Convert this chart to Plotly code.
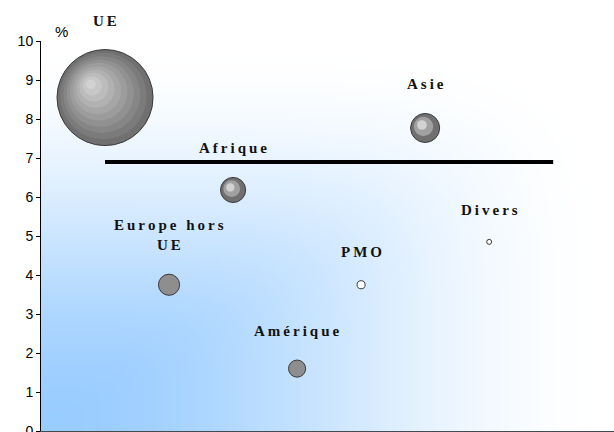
import base64
import struct
import zlib

import plotly.graph_objects as go

# ---------------- data ----------------
regions = ["UE", "Europe hors UE", "Afrique", "Amérique", "PMO", "Asie", "Divers"]
labels = ["UE", "Europe hors<br>UE", "Afrique", "Amérique", "PMO", "Asie", "Divers"]
positions = [1, 2, 3, 4, 5, 6, 7]
growth = [8.55, 3.75, 6.18, 1.60, 3.75, 7.77, 4.85]     # y value, %
weights = [60.0, 2.9, 4.1, 1.9, 0.42, 5.5, 0.16]        # bubble weight
styles = ["sphere", "flat", "sphere", "flat", "hollow", "sphere", "hollow"]
average = 6.9
y_ticks = list(range(0, 11))

# ---------------- layout constants ----------------
W, H = 614, 432
ML, MR, MT, MB = 41, 0, 41, 1
X_RANGE = [0, 8.95]
Y_RANGE = [0, 10]
PW, PH = W - ML - MR, H - MT - MB
px_x = PW / (X_RANGE[1] - X_RANGE[0])
px_y = PH / (Y_RANGE[1] - Y_RANGE[0])
SIZE_K = 12.4  # diameter px per sqrt(weight)

LABEL_FONT = dict(family="Liberation Serif", size=15, color="#111111", weight="bold")
THIN = "\u2009"


def spaced(t):
    parts = t.split("<br>")
    return "<br>".join(THIN.join(list(p)) for p in parts)


def hexc(c):
    return "#%02X%02X%02X" % tuple(int(round(v)) for v in c)


def lerp(a, b, t):
    return tuple(a[i] + (b[i] - a[i]) * t for i in range(3))


# ---------------- background gradient image ----------------
def make_png(w, h):
    blue = (153, 204, 255)
    white = (255, 255, 255)
    raw = bytearray()
    p = 6.0
    for j in range(h):
        raw.append(0)
        v = (h - 1 - j) / (h - 1)
        for i in range(w):
            u = i / (w - 1)
            s = min(1.0, (u ** p + v ** p) ** (1 / p))
            t = 3 * s * s - 2 * s ** 3
            c = lerp(blue, white, t)
            raw.extend(int(round(x)) for x in c)

    def chunk(tag, data):
        return (struct.pack(">I", len(data)) + tag + data +
                struct.pack(">I", zlib.crc32(tag + data) & 0xFFFFFFFF))

    return (b"\x89PNG\r\n\x1a\n" +
            chunk(b"IHDR", struct.pack(">IIBBBBB", w, h, 8, 2, 0, 0, 0)) +
            chunk(b"IDAT", zlib.compress(bytes(raw), 9)) +
            chunk(b"IEND", b""))


bg_uri = "data:image/png;base64," + base64.b64encode(make_png(191, 130)).decode()

fig = go.Figure()

# average line
fig.add_trace(go.Scatter(
    x=[positions[0], len(positions) + 1], y=[average, average],
    mode="lines", line=dict(color="black", width=4),
    hoverinfo="skip", showlegend=False))

# bubbles
dark = (112, 112, 112)
light = (210, 210, 210)
direction = (-0.73, -0.68)  # highlight direction (pixel space, y down)
for i, name in enumerate(regions):
    d = SIZE_K * weights[i] ** 0.5
    R = d / 2
    x0, y0 = positions[i], growth[i]
    if styles[i] == "sphere":
        n = max(2, int(round(R / 4.8)))
        for k in range(n):
            r = R * (1 - k / n)
            off = (R - r) * 0.45
            xs = x0 + direction[0] * off / px_x
            ys = y0 - direction[1] * off / px_y
            if n == 2:
                col = (128, 128, 128) if k == 0 else (190, 190, 190)
            else:
                col = lerp(dark, light, k / (n - 1))
            fig.add_trace(go.Scatter(
                x=[xs], y=[ys], mode="markers",
                marker=dict(size=2 * r, color=hexc(col),
                            line=dict(color="#3A3A3A" if k == 0 else hexc(col),
                                      width=1 if k == 0 else 0)),
                hoverinfo="skip", showlegend=False))
    else:
        fill = "#8E8E8E" if styles[i] == "flat" else "#FFFFFF"
        fig.add_trace(go.Scatter(
            x=[x0], y=[y0], mode="markers",
            marker=dict(size=d, color=fill, line=dict(color="#3A3A3A", width=1)),
            hoverinfo="skip", showlegend=False))
    fig.add_annotation(
        x=x0, y=y0, xref="x", yref="y", text=spaced(labels[i]),
        showarrow=False, xanchor="center", yanchor="bottom",
        yshift=R + 19, font=LABEL_FONT, align="center")

fig.add_annotation(
    x=(61 - ML) / PW, y=(H - MB - 31) / PH, xref="paper", yref="paper",
    text="%", showarrow=False, xanchor="center", yanchor="middle",
    font=dict(family="Liberation Sans", size=15, color="black"))

fig.add_layout_image(dict(
    source=bg_uri, xref="paper", yref="paper", x=0, y=1,
    sizex=1, sizey=1, sizing="stretch", xanchor="left", yanchor="top",
    layer="below"))

fig.update_layout(
    width=W, height=H,
    margin=dict(l=ML, r=MR, t=MT, b=MB, pad=0, autoexpand=False),
    paper_bgcolor="white", plot_bgcolor="rgba(0,0,0,0)",
    showlegend=False,
    xaxis=dict(range=X_RANGE, showgrid=False, zeroline=False,
               showticklabels=False, ticks="", showline=True,
               linecolor="#444A52", linewidth=2, fixedrange=True,
               automargin=False),
    yaxis=dict(range=Y_RANGE, tickvals=y_ticks, showgrid=False, zeroline=False,
               showline=True, linecolor="black", linewidth=1,
               ticks="outside", ticklen=4, tickcolor="black",
               ticklabeloverflow="allow", automargin=False,
               tickfont=dict(family="Liberation Sans", size=14, color="black"),
               fixedrange=True),
)

fig.write_html(
    "out.html",
    config={"displayModeBar": False},
    post_script="document.body.style.margin='0';document.body.style.overflow='hidden';",
)
